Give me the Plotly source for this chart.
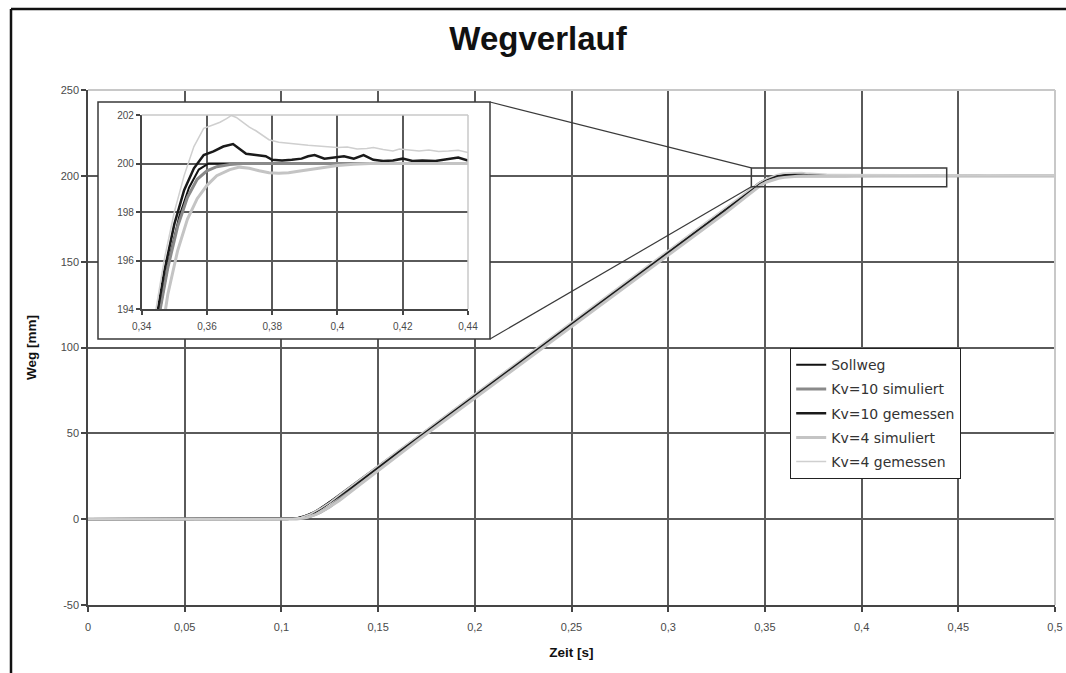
import plotly.graph_objects as go

# ---------------- data: position over time ----------------
# Sollweg (set point trajectory)
SOLL_T = [0, 0.103, 0.108, 0.113, 0.118, 0.123, 0.13, 0.14, 0.15, 0.16, 0.17, 0.18, 0.19,
          0.20, 0.21, 0.22, 0.23, 0.24, 0.25, 0.26, 0.27, 0.28, 0.29, 0.30, 0.31, 0.32,
          0.33, 0.34, 0.3455, 0.3485, 0.3515, 0.3545, 0.3575, 0.3605, 0.40, 0.45, 0.50]
SOLL_Y = [0, 0, 0.5, 2.1, 4.7, 8.3, 14.2, 22.5, 30.8, 39.1, 47.5, 55.8, 64.1,
          72.5, 80.8, 89.1, 97.5, 105.8, 114.1, 122.5, 130.8, 139.1, 147.4, 155.8, 164.1, 172.4,
          180.8, 189.3, 193.9, 196.1, 197.8, 199.0, 199.75, 200.0, 200.0, 200.0, 200.0]

# Kv=10 simulated
KV10_SIM_T = [0, 0.103, 0.106, 0.11, 0.115, 0.12, 0.125, 0.13,
              0.14, 0.15, 0.16, 0.17, 0.18, 0.19, 0.20, 0.21, 0.22, 0.23, 0.24, 0.25, 0.26,
              0.27, 0.28, 0.29, 0.30, 0.31, 0.32, 0.33, 0.34,
              0.345, 0.348, 0.351, 0.354, 0.357, 0.360, 0.363, 0.367, 0.371, 0.42, 0.50]
KV10_SIM_Y = [0, 0, 0.0, 0.35, 1.6, 3.9, 7.3, 11.9,
              20.6, 29.2, 37.7, 46.2, 54.5, 62.8, 71.2, 79.5, 87.8, 96.2, 104.5, 112.8, 121.2,
              129.5, 137.8, 146.1, 154.5, 162.8, 171.1, 179.5, 188.2,
              193.5, 195.7, 197.4, 198.6, 199.35, 199.7, 199.87, 199.96, 200.0, 200.0, 200.0]

# Kv=10 measured
KV10_GEM_T = [0, 0.103, 0.105, 0.108, 0.111, 0.114, 0.117, 0.12, 0.125, 0.13, 0.135, 0.14,
              0.15, 0.16, 0.17, 0.18, 0.19, 0.20, 0.21, 0.22, 0.23, 0.24, 0.25, 0.26, 0.27,
              0.28, 0.29, 0.30, 0.31, 0.32, 0.33, 0.34,
              0.344, 0.347, 0.350, 0.353, 0.356, 0.359, 0.362, 0.365, 0.368, 0.370, 0.372,
              0.375, 0.378, 0.380, 0.383, 0.386, 0.389, 0.391, 0.393, 0.396, 0.399, 0.402,
              0.405, 0.408, 0.411, 0.414, 0.417, 0.420, 0.423, 0.426, 0.430, 0.434, 0.437, 0.440]
KV10_GEM_Y = [0, 0, 0.1, 0.4, 1.2, 2.5, 4.0, 6.0, 9.6, 13.6, 17.6, 21.8,
              30.0, 38.4, 46.6, 55.0, 63.4, 71.6, 80.1, 88.3, 96.7, 105.0, 113.3, 121.7, 130.0,
              138.3, 146.7, 155.0, 163.4, 171.6, 180.0, 189.6,
              193.2, 195.6, 197.5, 198.9, 199.8, 200.35, 200.5, 200.7, 200.8, 200.6, 200.4,
              200.35, 200.3, 200.15, 200.12, 200.15, 200.2, 200.3, 200.35, 200.2, 200.25, 200.3,
              200.2, 200.35, 200.15, 200.1, 200.12, 200.2, 200.1, 200.12, 200.1, 200.2, 200.25, 200.12]

# Kv=4 simulated
KV4_SIM_T = [0, 0.103, 0.108, 0.113, 0.118, 0.123, 0.13,
             0.14, 0.15, 0.16, 0.17, 0.18, 0.19, 0.20, 0.21, 0.22, 0.23, 0.24, 0.25, 0.26,
             0.27, 0.28, 0.29, 0.30, 0.31, 0.32, 0.33, 0.34,
             0.346, 0.348, 0.351, 0.354, 0.357, 0.360, 0.363, 0.367, 0.370, 0.373, 0.376,
             0.379, 0.382, 0.385, 0.388, 0.392, 0.396, 0.40, 0.405, 0.41, 0.45, 0.50]
KV4_SIM_Y = [0, 0, 0.1, 0.9, 2.8, 5.8, 10.9,
             19.6, 28.4, 37.0, 45.5, 53.8, 62.1, 70.5, 78.8, 87.1, 95.5, 103.8, 112.1, 120.5,
             128.8, 137.1, 145.4, 153.8, 162.1, 170.4, 178.8, 187.6,
             193.0, 194.6, 196.4, 197.7, 198.55, 199.1, 199.5, 199.75, 199.85, 199.8, 199.7,
             199.62, 199.6, 199.62, 199.68, 199.75, 199.85, 199.92, 199.97, 200.0, 200.0, 200.0]

# Kv=4 measured
KV4_GEM_T = [0, 0.103, 0.106, 0.11, 0.115, 0.12, 0.125, 0.13,
             0.14, 0.15, 0.16, 0.17, 0.18, 0.19, 0.20, 0.21, 0.22, 0.23, 0.24, 0.25, 0.26,
             0.27, 0.28, 0.29, 0.30, 0.31, 0.32, 0.33, 0.34,
             0.344, 0.347, 0.350, 0.353, 0.356, 0.359, 0.362, 0.364, 0.366, 0.3675, 0.369,
             0.371, 0.373, 0.375, 0.377, 0.379, 0.382, 0.385, 0.388, 0.391, 0.394, 0.397,
             0.400, 0.403, 0.406, 0.409, 0.411, 0.414, 0.417, 0.419, 0.422, 0.425, 0.428,
             0.431, 0.434, 0.437, 0.440,
             0.445, 0.45, 0.455, 0.46, 0.465, 0.47, 0.475, 0.48, 0.49, 0.50]
KV4_GEM_Y = [0, 0, 0.2, 1.0, 3.0, 6.2, 9.8, 14.2,
             22.8, 31.3, 39.7, 48.0, 56.4, 64.7, 73.1, 81.4, 89.8, 98.1, 106.4, 114.8, 123.1,
             131.5, 139.8, 148.2, 156.5, 164.9, 173.2, 181.6, 190.0,
             193.7, 196.1, 198.0, 199.5, 200.7, 201.45, 201.6, 201.7, 201.85, 201.98, 201.9,
             201.7, 201.5, 201.35, 201.15, 200.98, 200.88, 200.83, 200.8, 200.75, 200.72, 200.7,
             200.66, 200.68, 200.6, 200.62, 200.66, 200.58, 200.52, 200.6, 200.55, 200.52, 200.56,
             200.5, 200.52, 200.55, 200.45,
             200.5, 200.45, 200.55, 200.5, 200.7, 200.5, 200.65, 200.45, 200.5, 200.45]

# axis ticks (main chart)
X_TICKS = [0, 0.05, 0.1, 0.15, 0.2, 0.25, 0.3, 0.35, 0.4, 0.45, 0.5]
X_LABELS = ["0", "0,05", "0,1", "0,15", "0,2", "0,25", "0,3", "0,35", "0,4", "0,45", "0,5"]
Y_TICKS = [-50, 0, 50, 100, 150, 200, 250]
Y_LABELS = ["-50", "0", "50", "100", "150", "200", "250"]

# axis ticks (detail view)
XI_TICKS = [0.34, 0.36, 0.38, 0.40, 0.42, 0.44]
XI_LABELS = ["0,34", "0,36", "0,38", "0,4", "0,42", "0,44"]
YI_TICKS = [194, 196, 198, 200, 202]
YI_LABELS = ["194", "196", "198", "200", "202"]

# detail window marked in the main chart
ZOOM_X = [0.343, 0.444]
ZOOM_Y = [193.6, 204.6]

SERIES = [
    ("Sollweg", SOLL_T, SOLL_Y, "#111111", 2.0),
    ("Kv=10 simuliert", KV10_SIM_T, KV10_SIM_Y, "#8a8a8a", 3.0),
    ("Kv=10 gemessen", KV10_GEM_T, KV10_GEM_Y, "#1a1a1a", 2.5),
    ("Kv=4 simuliert", KV4_SIM_T, KV4_SIM_Y, "#c4c4c4", 3.0),
    ("Kv=4 gemessen", KV4_GEM_T, KV4_GEM_Y, "#cfcfcf", 1.5),
]
for _, t, y, _, _ in SERIES:
    assert len(t) == len(y)

# ---------------- geometry (pixels) ----------------
W, H = 1066, 673
ML, MR, MT, MB = 88, 11, 90, 68
PW, PH = W - ML - MR, H - MT - MB


def fx(px):
    return (px - ML) / PW


def fy(py):
    return (H - MB - py) / PH


X_RANGE = [0, 0.5]
Y_RANGE = [-50, 250]
BOX = dict(x0=fx(98), x1=fx(490), y0=fy(339), y1=fy(102))          # detail panel frame
INSET_X = [fx(141.7), fx(468)]                                       # detail plot area
INSET_Y = [fy(309), fy(115)]

GRID = "#5a5a5a"
AXIS = "#454545"
EDGE = "#c8c8c8"
TICKFONT = dict(family="Liberation Sans, Arial", size=11, color="#4a4a4a")

fig = go.Figure()

for name, t, y, color, width in SERIES:
    fig.add_trace(go.Scatter(
        x=t, y=y, mode="lines", name=name, legendgroup=name,
        line=dict(color=color, width=width), xaxis="x", yaxis="y",
        hoverinfo="x+y+name"))

for name, t, y, color, width in SERIES:
    fig.add_trace(go.Scatter(
        x=t, y=y, mode="lines", name=name, legendgroup=name, showlegend=False,
        line=dict(color=color, width=width), xaxis="x3", yaxis="y3",
        hoverinfo="x+y+name"))


def to_paper_x(v):
    return (v - X_RANGE[0]) / (X_RANGE[1] - X_RANGE[0])


def to_paper_y(v):
    return (v - Y_RANGE[0]) / (Y_RANGE[1] - Y_RANGE[0])


shapes = [
    # white panel behind the detail view
    dict(type="rect", xref="x2", yref="y2", x0=0, x1=1, y0=0, y1=1,
         fillcolor="white", line=dict(width=0), layer="below"),
    # detail panel frame
    dict(type="rect", xref="paper", yref="paper", **BOX,
         line=dict(color="#3a3a3a", width=1.5), layer="above"),
    # light top / right edges of the main plot area
    dict(type="line", xref="paper", yref="paper", x0=0, x1=1, y0=1, y1=1,
         line=dict(color=EDGE, width=2), layer="above"),
    dict(type="line", xref="paper", yref="paper", x0=1, x1=1, y0=0, y1=1,
         line=dict(color=EDGE, width=2), layer="above"),
    # light top / right edges of the detail plot area
    dict(type="line", xref="paper", yref="paper", x0=INSET_X[0], x1=INSET_X[1],
         y0=INSET_Y[1], y1=INSET_Y[1], line=dict(color=EDGE, width=1.5), layer="above"),
    dict(type="line", xref="paper", yref="paper", x0=INSET_X[1], x1=INSET_X[1],
         y0=INSET_Y[0], y1=INSET_Y[1], line=dict(color=EDGE, width=1.5), layer="above"),
    # window in the main chart that the detail view magnifies
    dict(type="rect", xref="x", yref="y", x0=ZOOM_X[0], x1=ZOOM_X[1],
         y0=ZOOM_Y[0], y1=ZOOM_Y[1], line=dict(color="#3a3a3a", width=1.5), layer="above"),
    # connector lines between window and detail panel
    dict(type="line", xref="paper", yref="paper", x0=BOX["x1"], y0=BOX["y1"],
         x1=to_paper_x(ZOOM_X[0]), y1=to_paper_y(ZOOM_Y[1]),
         line=dict(color="#3a3a3a", width=1.2), layer="above"),
    dict(type="line", xref="paper", yref="paper", x0=BOX["x1"], y0=BOX["y0"],
         x1=to_paper_x(ZOOM_X[0]), y1=to_paper_y(ZOOM_Y[0]),
         line=dict(color="#3a3a3a", width=1.2), layer="above"),
    # chart frame: top and left edges
    dict(type="line", xref="paper", yref="paper", x0=fx(11), x1=fx(W),
         y0=fy(9), y1=fy(9), line=dict(color="#111111", width=2.5), layer="above"),
    dict(type="line", xref="paper", yref="paper", x0=fx(11), x1=fx(11),
         y0=fy(H), y1=fy(9), line=dict(color="#111111", width=2.5), layer="above"),
]

axis_common = dict(
    showgrid=True, gridcolor=GRID, gridwidth=1.5, zeroline=False,
    showline=True, linecolor=AXIS, linewidth=1.5,
    ticks="outside", tickcolor=AXIS, tickwidth=1.5,
)

fig.update_layout(
    width=W, height=H,
    margin=dict(l=ML, r=MR, t=MT, b=MB, autoexpand=False),
    paper_bgcolor="white", plot_bgcolor="white",
    font=dict(family="Liberation Sans, Arial", color="#222222"),
    title=dict(text="Wegverlauf", xref="container", yref="container",
               x=538 / W, y=1 - 38 / H, xanchor="center", yanchor="middle",
               font=dict(family="Liberation Sans, Arial", size=33, weight="bold", color="#111111")),
    xaxis=dict(domain=[0, 1], range=X_RANGE, anchor="y", tickvals=X_TICKS, ticktext=X_LABELS,
               ticklen=5, ticklabelstandoff=6, tickfont=TICKFONT,
               title=dict(text="Zeit [s]", standoff=16,
                          font=dict(family="Liberation Sans, Arial", size=13.5, weight="bold", color="#111111")),
               **axis_common),
    yaxis=dict(domain=[0, 1], range=Y_RANGE, anchor="x", tickvals=Y_TICKS, ticktext=Y_LABELS,
               ticklen=5, tickfont=TICKFONT,
               title=dict(text="Weg [mm]", standoff=21,
                          font=dict(family="Liberation Sans, Arial", size=13.5, weight="bold", color="#111111")),
               **axis_common),
    xaxis2=dict(domain=[BOX["x0"], BOX["x1"]], range=[0, 1], anchor="y2", visible=False),
    yaxis2=dict(domain=[BOX["y0"], BOX["y1"]], range=[0, 1], anchor="x2", visible=False),
    xaxis3=dict(domain=INSET_X, range=[0.34, 0.44], anchor="y3", tickvals=XI_TICKS, ticktext=XI_LABELS,
                ticklen=4, ticklabelstandoff=3, tickfont=dict(TICKFONT, size=10), **axis_common),
    yaxis3=dict(domain=INSET_Y, range=[194, 202], anchor="x3", tickvals=YI_TICKS, ticktext=YI_LABELS,
                ticklen=4, tickfont=dict(TICKFONT, size=10), **axis_common),
    legend=dict(x=fx(790), y=fy(348), xanchor="left", yanchor="top",
                bgcolor="white", bordercolor="#222222", borderwidth=1.2,
                font=dict(family="DejaVu Sans", size=14, color="#333333"),
                tracegroupgap=3, itemwidth=30),
    shapes=shapes,
    showlegend=True,
)

fig.write_html(
    "out.html",
    config={"displayModeBar": False},
    post_script="document.documentElement.style.overflow='hidden';"
                "document.body.style.overflow='hidden';document.body.style.margin='0';",
)
